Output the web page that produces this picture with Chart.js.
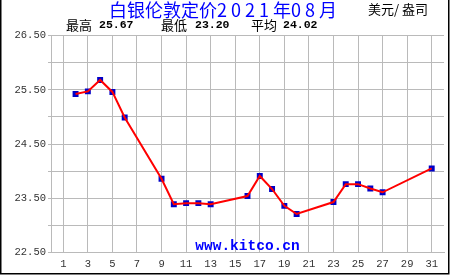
<!DOCTYPE html>
<html><head><meta charset="utf-8">
<script src="https://cdn.jsdelivr.net/npm/chart.js@4/dist/chart.umd.min.js"></script>
<style>
html,body{margin:0;padding:0;background:#fff}
#wrap{width:450px;height:275px;position:relative;background:#fff;overflow:hidden}
canvas{position:absolute;left:0;top:0}
#ov{pointer-events:none}
.t{position:absolute;white-space:pre;margin:0;padding:0}
#title{left:0;width:446px;top:0;text-align:center;font:18px/18px "Noto Sans CJK SC";color:#0000ff}
#unit{left:368px;top:1.8px;font:13px/13px "Noto Sans CJK SC";color:#000}
.sn{top:17.8px;font:13px/13px "Noto Sans CJK SC";color:#000}
.sv{top:19.25px;font:bold 11.5px/11.5px "Liberation Mono",monospace;color:#000}
#site{left:0;width:495px;top:238.75px;text-align:center;font:bold 14.5px/14.5px "Liberation Mono",monospace;color:#0000ff}
</style>
</head><body><div id="wrap"><canvas id="c" width="450" height="275"></canvas><canvas id="ov" width="450" height="275"></canvas></div>
<script>
const days = [2,3,4,5,6,9,10,11,12,13,16,17,18,19,20,23,24,25,26,27,31];
const prices = [25.42,25.47,25.68,25.46,24.99,23.86,23.39,23.41,23.41,23.39,23.54,23.91,23.67,23.36,23.21,23.43,23.76,23.76,23.68,23.61,24.05];
const xTicks = [1,3,5,7,9,11,13,15,17,19,21,23,25,27,29,31];
const yTicks = [22.5,23,23.5,24,24.5,25,25.5,26,26.5];
const yLabels = [22.5,23.5,24.5,25.5,26.5];
const titleText = "白银伦敦定价2 0 2 1 年0 8 月";
const unitText = "美元/ 盎司";
const statNames = ["最高","最低","平均"];
const statValues = ["25.67","23.20","24.02"];
const siteText = "www.kitco.cn";

const pts = days.map((d,i)=>({x:d,y:prices[i]}));
const gridGray = '#bababa';

const ch = new Chart(document.getElementById('c'),{
  type:'scatter',
  data:{datasets:[
    {data:pts,showLine:true,borderColor:'#ff0000',borderWidth:2,pointRadius:0,order:0,tension:0},
    {data:pts,showLine:false,pointStyle:'rect',pointRadius:4.2,backgroundColor:'#0000c8',borderColor:'#0000c8',borderWidth:0,order:1}
  ]},
  options:{
    responsive:false,animation:false,
    layout:{padding:{left:0,right:6,top:35.5,bottom:0}},
    plugins:{legend:{display:false},tooltip:{enabled:false}},
    scales:{
      x:{type:'linear',min:0,max:32,
        afterBuildTicks(s){s.ticks=xTicks.map(v=>({value:v}));},
        afterFit(s){s.height=22.5;},
        grid:{color:gridGray,lineWidth:1,tickLength:0},
        border:{color:gridGray,width:1},
        ticks:{color:'#333',font:{family:'"Liberation Mono", monospace',size:10.5},padding:5,maxRotation:0,autoSkip:false}
      },
      y:{min:22.5,max:26.5,
        afterBuildTicks(s){s.ticks=yTicks.map(v=>({value:v}));},
        afterFit(s){s.width=51;},
        grid:{color:gridGray,lineWidth:1,tickLength:3},
        border:{color:gridGray,width:1},
        ticks:{color:'#333',font:{family:'"Liberation Mono", monospace',size:10.5},padding:2,autoSkip:false,
          callback:(v)=>yLabels.includes(v)?v.toFixed(2):''}
      }
    }
  }
});

(function(){
  const wrap=document.getElementById('wrap');
  function addText(id,cls,text,left){
    const d=document.createElement('div');
    if(id) d.id=id;
    d.className='t '+(cls||'');
    d.textContent=text;
    if(left!==undefined) d.style.left=left+'px';
    wrap.appendChild(d);
  }
  addText('title','',titleText);
  addText('unit','',unitText);
  const nx=[66,161,251], vx=[99,195,283];
  for(let i=0;i<3;i++){
    addText(null,'sn',statNames[i],nx[i]);
    addText(null,'sv',statValues[i],vx[i]);
  }
  addText('site','',siteText);
  const c=document.getElementById('ov').getContext('2d');
  c.strokeStyle='#000'; c.lineWidth=1.5;
  c.beginPath();
  c.moveTo(0.75,0); c.lineTo(0.75,273.75); c.lineTo(448.75,273.75); c.lineTo(448.75,0);
  c.stroke();
})();
</script></body></html>
